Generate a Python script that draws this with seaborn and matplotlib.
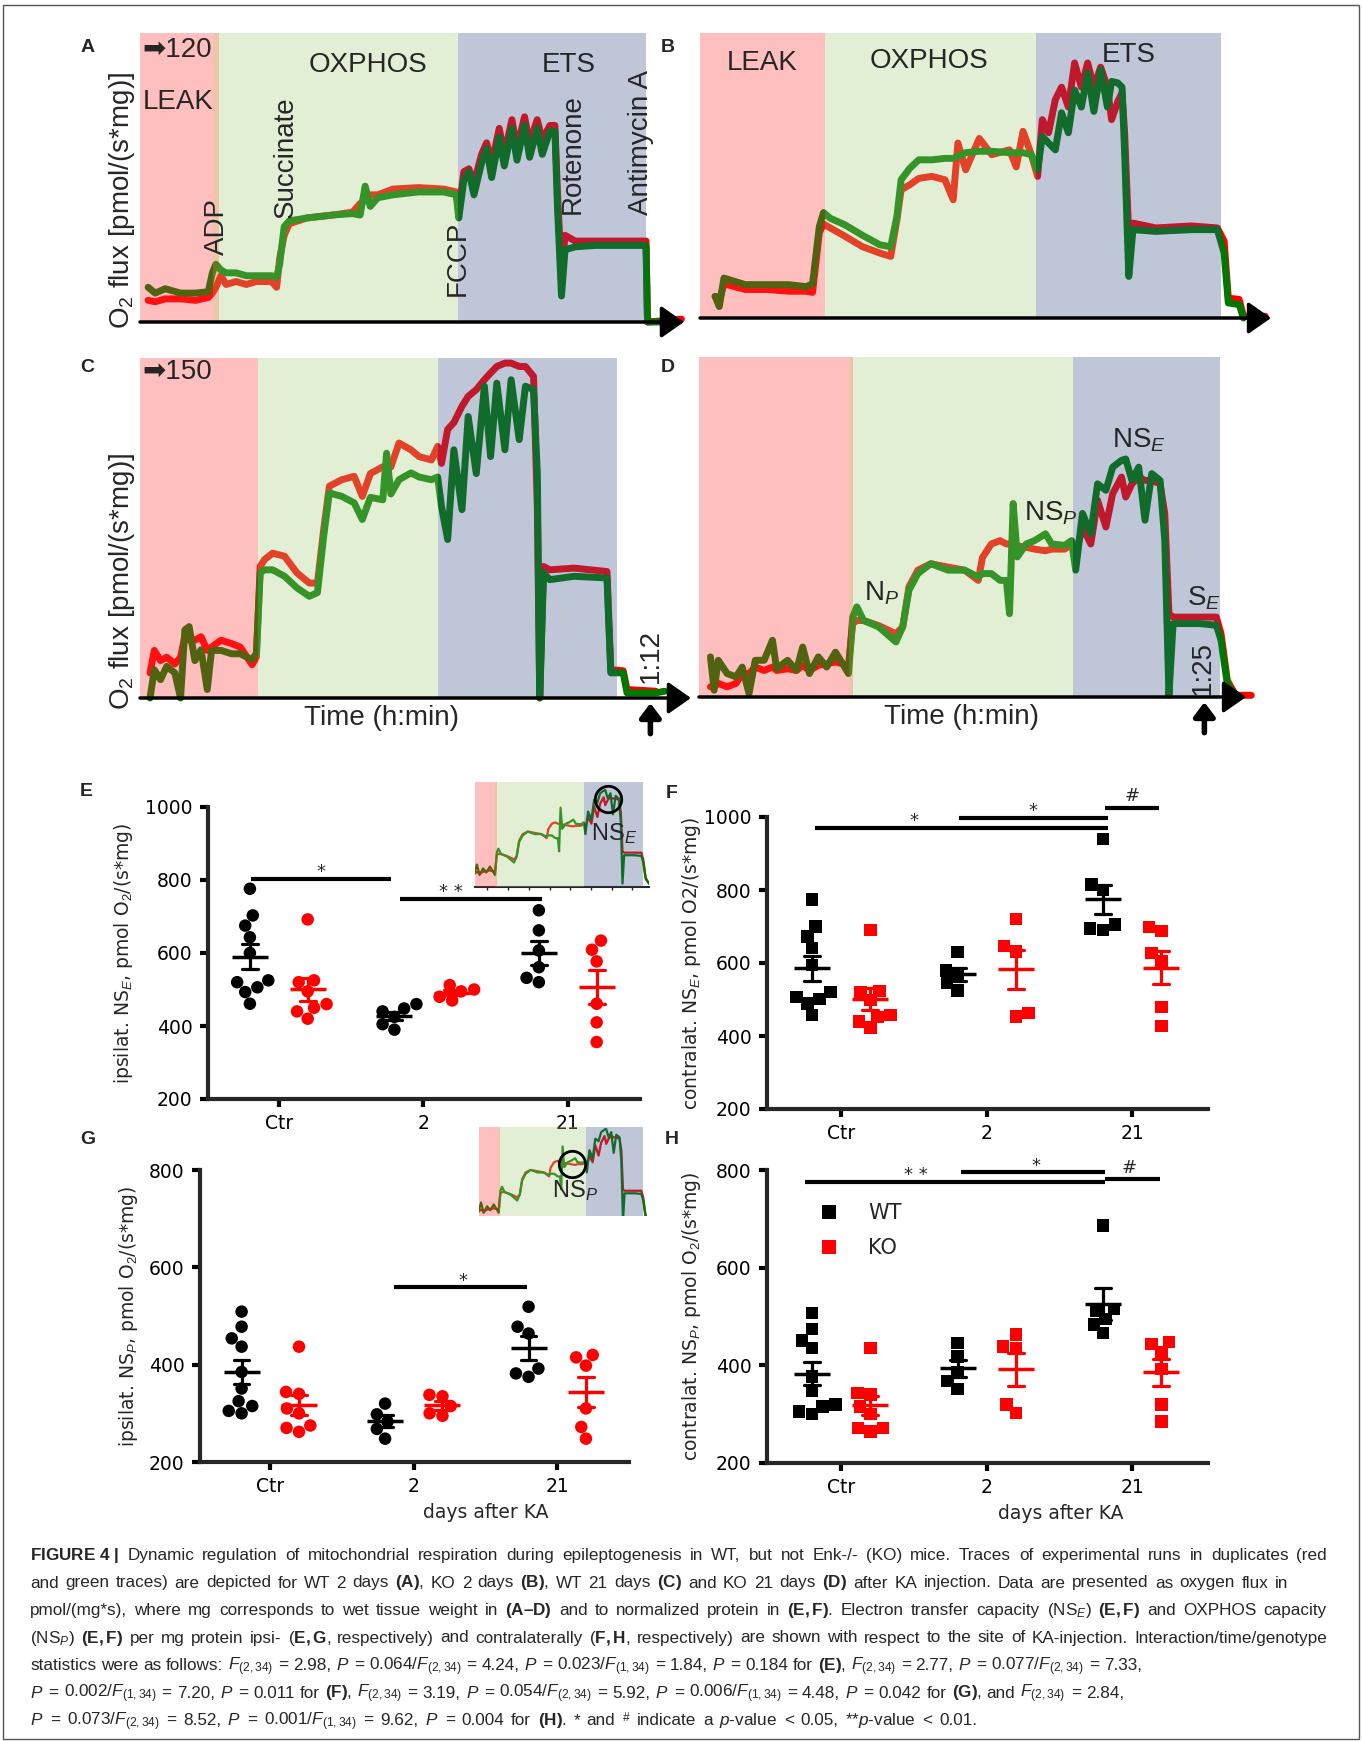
import matplotlib
matplotlib.use('Agg')
import matplotlib.pyplot as plt
import pandas as pd
import seaborn as sns
from matplotlib.patches import Rectangle

# ---------------- traces A-D (time in % of protocol, O2 flux in % of panel height)
a_time = [1.6, 3, 5, 8, 11, 13.5, 14.3, 15, 16, 17, 19, 21, 23, 26, 27, 27.6, 28.5, 29.5, 33, 38,
          42, 43.5, 44.5, 45.5, 47, 50, 55, 60, 62.5, 63, 64, 65, 66, 67.5, 68.5, 69.5, 71, 72, 73.5,
          74.5, 76, 77, 78.5, 79.5, 81, 82, 82.5, 83.3, 84, 86, 90, 95, 99.5, 100, 100.3, 104, 107]
a_green = [12, 10, 11.5, 10, 10, 10.5, 17, 20, 18, 17, 17, 16, 16, 16, 15.5, 20, 33, 35, 36, 37,
           37.5, 37, 47, 40, 43, 44, 45, 45, 44, 36, 49, 52, 44, 55, 60, 50, 64, 54, 67,
           56, 68, 57, 67, 58, 66, 66, 40, 9, 25, 26, 26.5, 26.5, 26.5, 26.5, 0, 0, float('nan')]
a_red = [7.5, 7, 8, 8, 7.5, 8.5, 10, 12, 16, 13, 14, 13, 14, 14, 12, 22, 30, 34, 36, 37,
         38, 41, 42, 44, 44, 46, 46.5, 46, 45, 38, 52, 53, 48, 58, 62, 55, 67, 58, 70,
         60, 71, 62, 70, 63, 68, 68, 45, 16, 30, 28, 28, 28, 28, 28, 0, 0.5, 1]

b_time = [2.9, 3.7, 4.6, 8.7, 12.9, 17, 20.4, 21.6, 22.9, 23.7, 25, 27.8, 31.2, 34.5, 36.6, 37.8,
          38.6, 40.3, 42, 44.5, 47, 48.6, 49.5, 51, 53.6, 56, 59.4, 60.7, 62, 63.6, 64.8, 65.7, 66.9,
          68.2, 69.4, 70.7, 71.9, 73.2, 74.4, 75.6, 76.9, 78.2, 79, 80.2, 81, 81.5, 82.3, 83.1, 87.5,
          94.3, 99.3, 100.6, 101.4, 103.5, 104.3, 108.5]
b_green = [7.6, 4, 14, 11.7, 11.7, 11.7, 11, 12, 32, 37, 35, 32.7, 29, 25.7, 25, 35.7, 48.5, 52.6,
           55.5, 55.5, 56, 56, 56.7, 58, 58.5, 58.5, 58, 58, 58, 57.3, 52, 63.7, 61.4, 59, 72, 65,
           80, 74, 86, 72.5, 87, 74, 83, 82.5, 81, 58, 14.6, 31, 30.4, 31, 31, 22.8, 5.3, 4.7, 0,
           float('nan')]
b_red = [7.6, 6, 12, 10, 10, 9.4, 9.4, 9, 30, 33, 31.6, 28.7, 25, 22.8, 21.6, 34.5, 45, 46.8, 49,
         49.7, 48.5, 41.5, 61.4, 52, 63, 57.3, 59, 53, 65.5, 57.3, 49.7, 69.6, 65, 76.6, 81, 74,
         89.5, 81, 89.5, 81, 88, 81, 69.6, 76, 79, 65, 28.7, 33.3, 31.6, 32.3, 31.6, 27, 7, 6.5,
         0.6, 0.6]

c_time = [2.1, 3, 4.3, 5.6, 7.3, 8.5, 9.4, 10.3, 11.5, 12.8, 14.1, 15, 17, 19.2, 21, 23.5, 24.4,
          25.2, 26.1, 27.8, 30.3, 32.9, 35.5, 37.2, 38.5, 39.7, 42.3, 44.9, 46.6, 48.3, 50.9, 51.7,
          52.6, 54.3, 56.8, 58.5, 61.1, 62.4, 63.2, 64.5, 65.8, 67.5, 68.8, 70.5, 72.2, 73.5, 74.8,
          76.5, 77.8, 79.5, 80.8, 82.5, 83.3, 83.8, 84.6, 85.9, 91, 97.9, 98.7, 101.3, 102.1, 108.1, 110]
c_green = [0, 8.3, 5.4, 9.3, 7.4, 0, 20, 21, 11, 14.2, 2.5, 14, 14, 13, 13, 11.3, 13.2, 36.8, 37.7,
           37.7, 35.8, 32.4, 29.9, 31, 47.5, 60.3, 59.3, 57.4, 52.5, 59, 58.3, 72, 60, 64.2, 66.2,
           65, 64.2, 65, 56.4, 46.6, 73, 55.4, 82.8, 66, 91.7, 71, 92.6, 73, 93.6, 76, 91.7, 90.7,
           66, 0, 36.8, 34.8, 35.8, 35.3, 7.4, 7.4, 1.5, 1.5, 2]
c_red = [7.4, 14, 11, 12, 10, 12, 18, 17, 17, 18, 14, 15, 17, 16, 15, 9.8, 12, 38.7, 40.7, 42.6,
         41.7, 36.8, 33.8, 33.8, 49.5, 62.3, 64.2, 65.2, 59.3, 66, 68, 67, 68, 75, 73, 71, 70, 74,
         69, 79, 81, 85.8, 88.7, 90.7, 93.6, 95.6, 97.5, 98.5, 98.5, 97.5, 97.5, 94.6, 56, 0, 38.7,
         37.7, 38.2, 37.2, 8.3, 8, 2.5, 2, float('nan')]

d_time = [2.2, 2.9, 3.7, 5.4, 7.1, 8.3, 9.6, 10.8, 12.5, 14.1, 14.9, 17, 18.7, 19.9, 21.2, 22.9,
          24.5, 26.2, 28.7, 29.5, 30.3, 31.6, 34.5, 37.8, 39.1, 40.3, 42, 44.5, 47.8, 51, 53.6, 54.4,
          56.1, 57.8, 59, 59.6, 60.3, 61.1, 62.8, 64.4, 66.5, 67.7, 70.2, 71.5, 72.3, 73.6, 75.2,
          76.5, 78.1, 79.4, 81.1, 81.9, 83.1, 84.4, 85.6, 86.9, 88.5, 89.4, 90.2, 91, 92.7, 96, 99.3,
          100.2, 101.4, 103, 106]
d_green = [11.8, 2, 10.8, 6.9, 5.9, 8.8, 1, 10.8, 10.8, 16.7, 8.3, 10.8, 7.8, 14.7, 6.9, 11.8, 8.8,
           13.2, 6.9, 23.5, 26.5, 22.5, 20.6, 16.2, 20.6, 31.4, 36.3, 39.2, 37.3, 37.3, 35.3, 36.3,
           36.3, 34.3, 34.3, 24.5, 56.9, 41.2, 45, 46, 48, 45, 44.6, 46, 37.3, 54, 48, 62.7, 60.8,
           67.6, 69.6, 70, 63.7, 67.6, 52, 65.7, 63.7, 46, 0.5, 21.6, 21.6, 21.6, 21.1, 16.7, 3.9,
           0.5, float('nan')]
d_red = [3, 3, 4, 3, 4, 6.9, 6.9, 8.8, 7.8, 8.8, 7.8, 8.3, 7.8, 9.3, 7.8, 9.3, 9.8, 10.3, 9.3, 21.6,
         22.5, 22.5, 21, 18.6, 20.6, 32.4, 37.3, 39.2, 38.2, 37.3, 34.3, 41, 45, 46, 45, 45, 45,
         44.5, 44, 43.5, 43, 43.5, 43.5, 45, 42, 50, 45, 57.8, 50, 59.8, 64.7, 58.8, 62.7, 64.7,
         63.7, 63.7, 62.7, 53.9, 24.5, 23.5, 23.5, 23.5, 23.5, 18.6, 4.9, 0.5, 0.5]

# ---------------- E-H: individual animals, pmol O2/(s*mg)
days = ['Ctr', '2', '21']
genos = ['WT', 'KO']

e_wt_ctr = [776, 703, 675, 643, 600, 525, 520, 506, 493, 461]
e_ko_ctr = [692, 525, 520, 495, 460, 450, 440, 420]
e_wt_2 = [460, 448, 440, 425, 405, 390]
e_ko_2 = [512, 500, 495, 480, 470]
e_wt_21 = [717, 662, 607, 561, 532, 520]
e_ko_21 = [634, 609, 577, 461, 410, 356]

f_wt_ctr = [774, 700, 673, 641, 594, 521, 507, 502, 489, 457]
f_ko_ctr = [690, 523, 521, 498, 457, 452, 440, 423]
f_wt_2 = [630, 580, 565, 545, 525]
f_ko_2 = [721, 646, 632, 463, 453]
f_wt_21 = [940, 815, 800, 705, 695, 690]
f_ko_21 = [699, 688, 627, 605, 479, 427]

g_wt_ctr = [509, 478, 454, 437, 385, 351, 325, 315, 305, 300]
g_ko_ctr = [437, 344, 340, 310, 300, 275, 270, 262]
g_wt_2 = [320, 298, 283, 268, 248]
g_ko_2 = [338, 335, 315, 300, 295]
g_wt_21 = [519, 478, 464, 392, 382, 375]
g_ko_21 = [420, 415, 398, 310, 272, 248]

h_wt_ctr = [507, 474, 451, 435, 377, 347, 320, 316, 305, 300]
h_ko_ctr = [435, 343, 340, 316, 300, 272, 272, 264]
h_wt_2 = [446, 418, 385, 368, 352]
h_ko_2 = [463, 439, 435, 320, 302]
h_wt_21 = [686, 515, 512, 495, 484, 466]
h_ko_21 = [448, 444, 427, 392, 320, 285]

caption = [
    r"$\mathbf{FIGURE\ 4\ |}$ Dynamic regulation of mitochondrial respiration during epileptogenesis in WT, but not Enk-/- (KO) mice. Traces of experimental runs in duplicates (red",
    r"and green traces) are depicted for WT 2 days $\mathbf{(A)}$, KO 2 days $\mathbf{(B)}$, WT 21 days $\mathbf{(C)}$ and KO 21 days $\mathbf{(D)}$ after KA injection. Data are presented as oxygen flux in",
    r"pmol/(mg*s), where mg corresponds to wet tissue weight in $\mathbf{(A–D)}$ and to normalized protein in $\mathbf{(E,F)}$. Electron transfer capacity (NS$_{\mathit{E}}$) $\mathbf{(E,F)}$ and OXPHOS capacity",
    r"(NS$_{\mathit{P}}$) $\mathbf{(E,F)}$ per mg protein ipsi- ($\mathbf{E,G}$, respectively) and contralaterally ($\mathbf{F,H}$, respectively) are shown with respect to the site of KA-injection. Interaction/time/genotype",
    r"statistics were as follows: $F_{(2,34)}$ = 2.98, $P$ = 0.064/$F_{(2,34)}$ = 4.24, $P$ = 0.023/$F_{(1,34)}$ = 1.84, $P$ = 0.184 for $\mathbf{(E)}$, $F_{(2,34)}$ = 2.77, $P$ = 0.077/$F_{(2,34)}$ = 7.33,",
    r"$P$ = 0.002/$F_{(1,34)}$ = 7.20, $P$ = 0.011 for $\mathbf{(F)}$, $F_{(2,34)}$ = 3.19, $P$ = 0.054/$F_{(2,34)}$ = 5.92, $P$ = 0.006/$F_{(1,34)}$ = 4.48, $P$ = 0.042 for $\mathbf{(G)}$, and $F_{(2,34)}$ = 2.84,",
    r"$P$ = 0.073/$F_{(2,34)}$ = 8.52, $P$ = 0.001/$F_{(1,34)}$ = 9.62, $P$ = 0.004 for $\mathbf{(H)}$. * and $^{\#}$ indicate a $p$-value < 0.05, **$p$-value < 0.01.",
]

# ---------------- style
sns.set_theme(style='ticks')
plt.rcParams['font.family'] = ['Liberation Sans', 'DejaVu Sans']
plt.rcParams['mathtext.fontset'] = 'custom'
plt.rcParams['mathtext.rm'] = 'Liberation Sans'
plt.rcParams['mathtext.it'] = 'Liberation Sans:italic'
plt.rcParams['mathtext.bf'] = 'Liberation Sans:bold'

W, H = 1362, 1741
ALPHA = 0.32


def box(left, top, right, bottom):
    return [left / W, 1 - bottom / H, (right - left) / W, (bottom - top) / H]


def overlay(target):
    # colour which, laid over white with ALPHA, gives the target tint
    return tuple(min(1, max(0, 1 - (1 - c) / ALPHA)) for c in target)


PINK = overlay((1.0, 0.75, 0.75))
LIME = overlay((0.89, 0.94, 0.84))
SLATE = overlay((0.75, 0.78, 0.85))
RED = '#ff0000'
GRN = '#007800'
PAL = {'WT': 'black', 'KO': '#ff0000'}

fig = plt.figure(figsize=(W / 100, H / 100), dpi=100)
fig.patch.set_facecolor('white')


def shade(ax, phases):
    leak, adp, oxphos, ets = phases
    ax.axvspan(0, leak, color=PINK, alpha=ALPHA, lw=0, zorder=3)
    if adp > leak:
        ax.axvspan(leak, adp, color=(0.85, 0.5, 0.25), alpha=0.45, lw=0, zorder=3)
    ax.axvspan(adp, oxphos, color=LIME, alpha=ALPHA, lw=0, zorder=3)
    ax.axvspan(oxphos, ets, color=SLATE, alpha=ALPHA, lw=0, zorder=3)


def traces(ax, t, green, red, lw):
    sns.lineplot(x=t, y=red, ax=ax, color=RED, lw=lw, estimator=None, sort=False, zorder=2)
    sns.lineplot(x=t, y=green, ax=ax, color=GRN, lw=lw, estimator=None, sort=False, zorder=2.1)


def trace_panel(px, xmax, t, green, red, phases, arrow_end):
    ax = fig.add_axes(box(*px))
    traces(ax, t, green, red, 5)
    for ln in ax.lines:
        ln.set_clip_on(False)
    shade(ax, phases)
    ax.set_xlim(0, xmax)
    ax.set_ylim(0, 100)
    ax.axis('off')
    ax.annotate('', xy=(arrow_end, 0), xytext=(0, 0), annotation_clip=False, zorder=6,
                arrowprops=dict(arrowstyle='-|>,head_length=1.0,head_width=0.7', lw=2.5,
                                color='black', mutation_scale=14, shrinkA=0, shrinkB=0))
    return ax


def txt(ax, x, y, s, rot=0, size=20, **kw):
    ax.text(x, y, s, rotation=rot, fontsize=size, ha='center', va='center', zorder=7, **kw)


def up_arrow(ax, x):
    ax.annotate('', xy=(x, -1.5), xytext=(0, -22), xycoords='data', textcoords='offset points',
                annotation_clip=False,
                arrowprops=dict(arrowstyle='-|>,head_length=0.6,head_width=0.45', lw=4,
                                color='black', mutation_scale=14, shrinkA=0, shrinkB=0))


# ---- A
ax = trace_panel((140, 33, 140 + 110 * 5.06, 322), 110, a_time, a_green, a_red,
                 (14.5, 15.6, 62.9, 100), 107.5)
ax.text(0.4, 94, '\u27a1120', fontsize=20, va='center', ha='left', zorder=7,
        family=['Liberation Sans', 'DejaVu Sans'])
txt(ax, 7.6, 76, 'LEAK')
txt(ax, 45, 89, 'OXPHOS')
txt(ax, 84.7, 89, 'ETS')
txt(ax, 15.3, 33, 'ADP', 90)
txt(ax, 28.8, 57, 'Succinate', 90)
txt(ax, 62.7, 22, 'FCCP', 90)
txt(ax, 85.6, 58, 'Rotenone', 90)
txt(ax, 99, 62, 'Antimycin A', 90)

# ---- B
ax = trace_panel((700, 33, 700 + 112 * 5.21, 318), 112, b_time, b_green, b_red,
                 (24, 24, 64.4, 100), 109.6)
txt(ax, 12, 89.5, 'LEAK')
txt(ax, 44, 90, 'OXPHOS')
txt(ax, 82.3, 92.4, 'ETS')

# ---- C
ax = trace_panel((140, 358, 140 + 117 * 4.77, 698), 117, c_time, c_green, c_red,
                 (24.8, 24.8, 62.4, 100), 115.5)
ax.text(0.4, 96, '\u27a1150', fontsize=20, va='center', ha='left', zorder=7,
        family=['Liberation Sans', 'DejaVu Sans'])
txt(ax, 107, 12.3, '1:12', 90)
up_arrow(ax, 107)

# ---- D
ax = trace_panel((699, 357, 699 + 108 * 5.21, 697), 108, d_time, d_green, d_red,
                 (28.7, 29.5, 71.7, 100), 105)
txt(ax, 84.4, 75.5, r'NS$_{\mathit{E}}$')
txt(ax, 67.5, 54, r'NS$_{\mathit{P}}$')
txt(ax, 35, 30.4, r'N$_{\mathit{P}}$')
txt(ax, 97, 29, r'S$_{\mathit{E}}$')
txt(ax, 96.8, 8.6, '1:25', 90)
up_arrow(ax, 97)

for y in (200, 581):
    fig.text(122 / W, 1 - y / H, r'O$_2$ flux [pmol/(s*mg)]', rotation=90, fontsize=20,
             ha='center', va='center')
fig.text(382 / W, 1 - 718 / H, 'Time (h:min)', fontsize=20, ha='center', va='center')
fig.text(961 / W, 1 - 717 / H, 'Time (h:min)', fontsize=20, ha='center', va='center')


# ---------------- E-H dot plots
def long_df(groups):
    rows = [(d, g, v) for (d, g), vals in groups.items() for v in vals]
    return pd.DataFrame(rows, columns=['day', 'geno', 'val'])


def sig(ax, x0, x1, y, text, tx, ty):
    ax.plot([x0, x1], [y, y], color='black', lw=3, clip_on=False, solid_capstyle='butt', zorder=6)
    ax.text(tx, ty, text, ha='center', va='center', fontsize=13, clip_on=False,
            family='DejaVu Sans')


def dot_panel(px, xlim, df, marker, ylim, yticks, ylabel, label_x, legend=False, xlabel=None):
    ax = fig.add_axes(box(*px))
    sns.swarmplot(data=df, x='day', y='val', hue='geno', order=days, hue_order=genos,
                  palette=PAL, dodge=True, marker=marker, size=9, linewidth=0,
                  ax=ax, legend=legend, zorder=2)
    sns.pointplot(data=df, x='day', y='val', hue='geno', order=days, hue_order=genos,
                  palette=PAL, dodge=0.4, errorbar='se', capsize=0.11, markers='_',
                  markersize=26, markeredgewidth=2.5, linestyles='none',
                  err_kws={'linewidth': 2.3, 'zorder': 5}, legend=False, ax=ax, zorder=5)
    ax.set_xlim(*xlim)
    ax.set_ylim(*ylim)
    ax.set_yticks(yticks)
    ax.set_xticks([0, 1, 2])
    ax.set_xticklabels(days)
    sns.despine(ax=ax)
    for s in ('left', 'bottom'):
        ax.spines[s].set_linewidth(3)
    ax.tick_params(width=3, length=6, labelsize=13.5, colors='black', pad=5)
    for lab in ax.get_xticklabels() + ax.get_yticklabels():
        lab.set_family('DejaVu Sans')
    ax.set_ylabel(ylabel, fontsize=13.5, family='DejaVu Sans')
    ax.yaxis.set_label_coords(label_x, 0.5)
    if xlabel:
        ax.set_xlabel(xlabel, fontsize=13.5, family='DejaVu Sans')
        ax.xaxis.set_label_coords(0.665, -0.14)
    else:
        ax.set_xlabel('')
    ax.patch.set_alpha(0)
    return ax


e_df = long_df({('Ctr', 'WT'): e_wt_ctr, ('Ctr', 'KO'): e_ko_ctr, ('2', 'WT'): e_wt_2,
                ('2', 'KO'): e_ko_2, ('21', 'WT'): e_wt_21, ('21', 'KO'): e_ko_21})
f_df = long_df({('Ctr', 'WT'): f_wt_ctr, ('Ctr', 'KO'): f_ko_ctr, ('2', 'WT'): f_wt_2,
                ('2', 'KO'): f_ko_2, ('21', 'WT'): f_wt_21, ('21', 'KO'): f_ko_21})
g_df = long_df({('Ctr', 'WT'): g_wt_ctr, ('Ctr', 'KO'): g_ko_ctr, ('2', 'WT'): g_wt_2,
                ('2', 'KO'): g_ko_2, ('21', 'WT'): g_wt_21, ('21', 'KO'): g_ko_21})
h_df = long_df({('Ctr', 'WT'): h_wt_ctr, ('Ctr', 'KO'): h_ko_ctr, ('2', 'WT'): h_wt_2,
                ('2', 'KO'): h_ko_2, ('21', 'WT'): h_wt_21, ('21', 'KO'): h_ko_21})

ax = dot_panel((208, 807, 640, 1099), (-0.49, 2.5), e_df, 'o', (200, 1000),
               [200, 400, 600, 800, 1000],
               r'ipsilat. NS$_{\mathit{E}}$, pmol O$_2$/(s*mg)', -0.17)
sig(ax, -0.19, 0.78, 803, '*', 0.29, 821)
sig(ax, 0.84, 1.82, 747, '* *', 1.19, 766)

ax = dot_panel((767, 817, 1208, 1109), (-0.51, 2.52), f_df, 's', (200, 1000),
               [200, 400, 600, 800, 1000],
               r'contralat. NS$_{\mathit{E}}$, pmol O2/(s*mg)', -0.145)
sig(ax, -0.18, 1.83, 971, '*', 0.5, 990)
sig(ax, 0.81, 1.83, 997, '*', 1.32, 1016)
sig(ax, 1.81, 2.18, 1026, '#', 2.0, 1058)

ax = dot_panel((200, 1170, 629, 1462), (-0.49, 2.5), g_df, 'o', (200, 800),
               [200, 400, 600, 800],
               r'ipsilat. NS$_{\mathit{P}}$, pmol O$_2$/(s*mg)', -0.14, xlabel='days after KA')
sig(ax, 0.86, 1.79, 560, '*', 1.34, 572)

ax = dot_panel((767, 1170, 1208, 1463), (-0.51, 2.52), h_df, 's', (200, 800),
               [200, 400, 600, 800],
               r'contralat. NS$_{\mathit{P}}$, pmol O$_2$/(s*mg)', -0.145, legend=True,
               xlabel='days after KA')
sig(ax, -0.25, 1.81, 775, '* *', 0.51, 790)
sig(ax, 0.82, 1.81, 795, '*', 1.34, 809)
sig(ax, 1.81, 2.19, 782, '#', 1.98, 805)
sns.move_legend(ax, 'upper left', bbox_to_anchor=(0.05, 0.95), frameon=False, title=None,
                fontsize=15, handletextpad=0.9, labelspacing=0.7, markerscale=1.1)
for t in ax.get_legend().get_texts():
    t.set_family('DejaVu Sans')


# ---------------- insets (panel D trace, zoomed)
def inset(px, xlim, ylim, ring, label, label_xy, axis_line):
    ax = fig.add_axes(box(*px))
    traces(ax, d_time, d_green, d_red, 1.6)
    shade(ax, (28.7, 29.5, 71.7, 100))
    ax.set_xlim(*xlim)
    ax.set_ylim(*ylim)
    ax.plot([ring[0]], [ring[1]], marker='o', mfc='none', mec='black', ms=19, mew=2, zorder=8)
    ax.text(label_xy[0], label_xy[1], label, fontsize=17, ha='center', va='center', zorder=8)
    ax.set_yticks([])
    ax.set_ylabel('')
    ax.set_xlabel('')
    for s in ('left', 'right', 'top'):
        ax.spines[s].set_visible(False)
    if axis_line:
        ax.spines['bottom'].set_linewidth(1.5)
        ax.set_xticks(range(25, 104, 10))
        ax.tick_params(axis='x', length=2.5, width=1, labelbottom=False)
    else:
        ax.spines['bottom'].set_visible(False)
        ax.set_xticks([])
    ax.patch.set_alpha(0)


inset((475, 782, 649, 887), (19, 103), (-2, 76), (83.1, 63.6), r'NS$_{\mathit{E}}$', (86, 38), True)
inset((479, 1127, 647, 1216), (18.9, 102.1), (4.5, 71.5), (64.9, 44), r'NS$_{\mathit{P}}$',
      (66.5, 24), False)

# ---------------- panel letters
for letter, x, y in [('A', 88, 47), ('B', 668, 47), ('C', 87, 368), ('D', 668, 368),
                     ('E', 86, 792), ('F', 672, 793), ('G', 88, 1140), ('H', 672, 1140)]:
    fig.text(x / W, 1 - y / H, letter, fontsize=14, fontweight='bold', ha='center', va='center')


# ---------------- caption (word-spaced to the line ends of the original) and frame
def split_words(line):
    words, cur, in_math = [], '', False
    for ch in line:
        if ch == '$':
            in_math = not in_math
        if ch == ' ' and not in_math:
            if cur:
                words.append(cur)
            cur = ''
        else:
            cur += ch
    if cur:
        words.append(cur)
    return words


renderer = fig.canvas.get_renderer()
CAP_SIZE = 12.3
x_left = 30
line_ends = [1327, 1288, 1327, 1327, 1132, 1124, 977]
for i, line in enumerate(caption):
    y = 1 - (1560 + 27.5 * i) / H
    items = [fig.text(0, y, w, fontsize=CAP_SIZE, ha='left', va='baseline')
             for w in split_words(line)]
    widths = [it.get_window_extent(renderer).width for it in items]
    natural = CAP_SIZE * 100 / 72 * 0.28
    gap = max(natural, (line_ends[i] - x_left - sum(widths)) / (len(items) - 1))
    x = x_left
    for it, w in zip(items, widths):
        it.set_x(x / W)
        x += w + gap

fig.add_artist(Rectangle((3 / W, 2 / H), (W - 6) / W, (H - 7) / H, transform=fig.transFigure,
                         fill=False, ec='#555555', lw=1.0))

fig.savefig('out.png', dpi=100)
